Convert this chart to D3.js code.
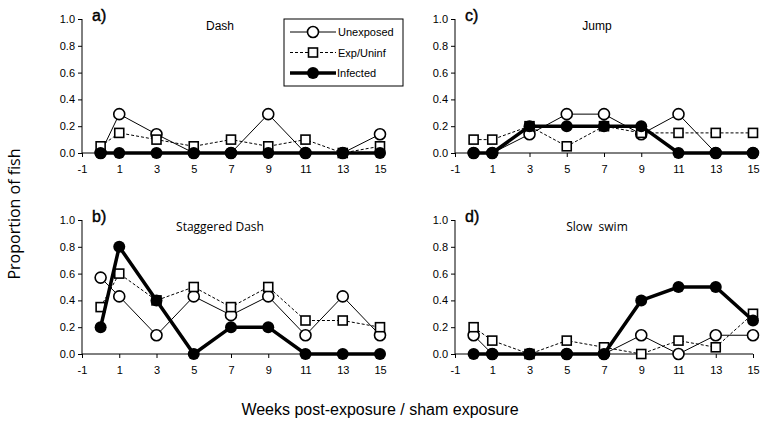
<!DOCTYPE html>
<html>
<head>
<meta charset="utf-8">
<script src="https://cdn.jsdelivr.net/npm/d3@7"></script>
<style>
  body { margin: 0; background: #fff; }
  svg text { font-family: "Liberation Sans", Arial, Helvetica, sans-serif; fill: #000; }
</style>
</head>
<body>
<div id="wrapper"></div>
<script>
// weeks (first point sits between -1 and 1)
const weeks = [0, 1, 3, 5, 7, 9, 11, 13, 15]
const xTicks = [-1, 1, 3, 5, 7, 9, 11, 13, 15]
const yTicks = [0, 0.2, 0.4, 0.6, 0.8, 1.0]
const seriesNames = ['Unexposed', 'Exp/Uninf', 'Infected']

// a) Dash
const dashUnexp = [0, 0.29, 0.14, 0, 0, 0.29, 0, 0, 0.14]
const dashExp = [0.05, 0.15, 0.10, 0.05, 0.10, 0.05, 0.10, 0, 0.05]
const dashInf = [0, 0, 0, 0, 0, 0, 0, 0, 0]
// b) Staggered Dash
const stagUnexp = [0.57, 0.43, 0.14, 0.43, 0.29, 0.43, 0.14, 0.43, 0.14]
const stagExp = [0.35, 0.60, 0.40, 0.50, 0.35, 0.50, 0.25, 0.25, 0.20]
const stagInf = [0.20, 0.80, 0.40, 0, 0.20, 0.20, 0, 0, 0]
// c) Jump
const jumpUnexp = [0, 0, 0.14, 0.29, 0.29, 0.14, 0.29, 0, 0]
const jumpExp = [0.10, 0.10, 0.20, 0.05, 0.20, 0.15, 0.15, 0.15, 0.15]
const jumpInf = [0, 0, 0.20, 0.20, 0.20, 0.20, 0, 0, 0]
// d) Slow swim
const slowUnexp = [0.14, 0, 0, 0, 0, 0.14, 0, 0.14, 0.14]
const slowExp = [0.20, 0.10, 0, 0.10, 0.05, 0, 0.10, 0.05, 0.30]
const slowInf = [0, 0, 0, 0, 0, 0.40, 0.50, 0.50, 0.25]

const panels = [
    { letter: 'a)', title: 'Dash', titleFont: 'Liberation Sans', left: 82, top: 19, series: [dashUnexp, dashExp, dashInf] },
    { letter: 'b)', title: 'Staggered Dash', titleFont: 'Open Sans', left: 82, top: 220, series: [stagUnexp, stagExp, stagInf] },
    { letter: 'c)', title: 'Jump', titleFont: 'Liberation Sans', left: 455, top: 19, series: [jumpUnexp, jumpExp, jumpInf] },
    { letter: 'd)', title: 'Slow  swim', titleFont: 'Open Sans', left: 455, top: 220, series: [slowUnexp, slowExp, slowInf] }
]

let dimensions = {
    width: 763,
    height: 431,
    panelWidth: 298,
    panelHeight: 134
}

const ARIAL = '"Liberation Sans", Arial, Helvetica, sans-serif'

let svg = d3.select("#wrapper")
    .append("svg")
    .attr("width", dimensions.width)
    .attr("height", dimensions.height)

const styles = [
    { stroke: 1, dash: null },
    { stroke: 1, dash: "3,2" },
    { stroke: 3.5, dash: null }
]

function drawMarker(g, type, x, y) {
    if (type === 0) {
        g.append("circle").attr("cx", x).attr("cy", y).attr("r", 5.5)
            .attr("fill", "#fff").attr("stroke", "#000").attr("stroke-width", 1.6)
    } else if (type === 1) {
        g.append("rect").attr("x", x - 4.5).attr("y", y - 4.5).attr("width", 9).attr("height", 9)
            .attr("fill", "#fff").attr("stroke", "#000").attr("stroke-width", 1.6)
    } else {
        g.append("circle").attr("cx", x).attr("cy", y).attr("r", 6)
            .attr("fill", "#000")
    }
}

panels.forEach(p => {
    let x = d3.scaleLinear().domain([-1, 15]).range([0, dimensions.panelWidth])
    let y = d3.scaleLinear().domain([0, 1]).range([dimensions.panelHeight, 0])

    let g = svg.append("g").attr("transform", `translate(${p.left},${p.top})`)

    // y axis
    let yAxis = g.append("g")
        .call(d3.axisLeft(y).tickValues(yTicks).tickFormat(d3.format(".1f")).tickSize(4).tickPadding(3))
    // x axis, plain hyphen for -1
    let xAxis = g.append("g")
        .attr("transform", `translate(0,${dimensions.panelHeight})`)
        .call(d3.axisBottom(x).tickValues(xTicks).tickFormat(d => String(d)).tickSize(4).tickPadding(8))
    ;[yAxis, xAxis].forEach(a => {
        a.attr("font-family", null)
        a.select(".domain").attr("stroke", "#000").attr("stroke-width", 1)
        a.selectAll(".tick line").attr("stroke", "#000")
        a.selectAll("text").attr("font-size", "11px").style("font-family", ARIAL)
    })
    // axis d3 paths carry outer ticks; redraw as plain lines
    yAxis.select(".domain").attr("d", `M0,0V${dimensions.panelHeight}`)
    xAxis.select(".domain").attr("d", `M0,0H${dimensions.panelWidth}`)

    // series
    p.series.forEach((vals, si) => {
        let pts = weeks.map((w, i) => [x(w), y(vals[i])])
        g.append("path")
            .attr("d", d3.line()(pts))
            .attr("fill", "none")
            .attr("stroke", "#000")
            .attr("stroke-width", styles[si].stroke)
            .attr("stroke-dasharray", styles[si].dash)
        let mg = g.append("g")
        pts.forEach(pt => drawMarker(mg, si, pt[0], pt[1]))
    })

    g.append("text")
        .attr("x", 10).attr("y", 2)
        .attr("font-size", "16px")
        .attr("stroke", "#000").attr("stroke-width", 0.4)
        .style("font-family", ARIAL)
        .text(p.letter)
    g.append("text")
        .attr("x", p.left === 82 ? 138 : 142).attr("y", 11)
        .attr("text-anchor", "middle")
        .attr("font-size", "12px")
        .style("font-family", p.titleFont)
        .style("white-space", "pre")
        .text(p.title)
})

// legend
let legend = svg.append("g").attr("transform", "translate(284,19)")
legend.append("rect")
    .attr("width", 119).attr("height", 67)
    .attr("fill", "#fff").attr("stroke", "#000").attr("stroke-width", 1)
seriesNames.forEach((name, i) => {
    let ly = 13 + i * 20.5
    legend.append("line")
        .attr("x1", 6).attr("x2", 52).attr("y1", ly).attr("y2", ly)
        .attr("stroke", "#000")
        .attr("stroke-width", styles[i].stroke)
        .attr("stroke-dasharray", styles[i].dash)
    drawMarker(legend, i, 29, ly)
    legend.append("text")
        .attr("x", i === 2 ? 53 : 54).attr("y", ly + 4)
        .attr("font-size", "11px")
        .style("font-family", ARIAL)
        .text(name)
})

// axis titles
svg.append("text")
    .attr("transform", "translate(20,214) rotate(-90)")
    .attr("text-anchor", "middle")
    .attr("font-size", "16px")
    .style("font-family", "Open Sans")
    .text("Proportion of fish")

svg.append("text")
    .attr("x", 380).attr("y", 415)
    .attr("text-anchor", "middle")
    .attr("font-size", "16px")
    .style("font-family", ARIAL)
    .text("Weeks post-exposure / sham exposure")
</script>
</body>
</html>
